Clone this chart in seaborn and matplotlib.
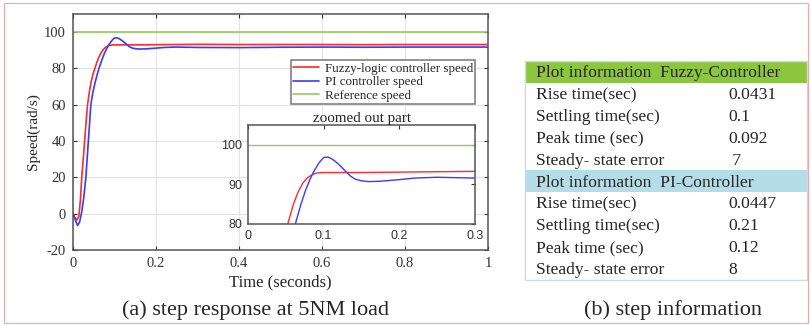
import numpy as np
import pandas as pd
import seaborn as sns
import matplotlib.pyplot as plt
from matplotlib.patches import Rectangle

# speed traces
fuzzy_t = [0, 0.004, 0.009, 0.014, 0.018, 0.021, 0.025, 0.028, 0.032, 0.035, 0.04, 0.044,
           0.049, 0.054, 0.06, 0.066, 0.072, 0.078, 0.085, 0.092, 0.1, 0.12, 0.15, 0.2,
           0.25, 0.3, 0.4, 0.5, 0.6, 0.7, 0.8, 0.9, 1.0]
fuzzy_speed = [0, -2, -3.5, -1.5, 8, 20, 31, 40, 52, 60, 68, 73,
               77.5, 81, 85, 88, 90.2, 91.6, 92.5, 92.9, 93.0, 93.0, 93.0, 93.1,
               93.2, 93.3, 93.2, 93.2, 93.2, 93.1, 93.2, 93.2, 93.2]

pi_t = [0, 0.005, 0.011, 0.016, 0.021, 0.026, 0.031, 0.034, 0.037, 0.04, 0.043, 0.048,
        0.053, 0.058, 0.064, 0.07, 0.076, 0.082, 0.088, 0.094, 0.1, 0.106, 0.112, 0.118,
        0.124, 0.13, 0.136, 0.142, 0.15, 0.16, 0.175, 0.2, 0.22, 0.25, 0.3, 0.4, 0.5,
        0.6, 0.7, 0.8, 0.9, 1.0]
pi_speed = [0, -3, -6.5, -4.5, 1, 9, 20, 30, 40, 50, 60, 67,
            72, 76.5, 81, 85, 88.5, 91.3, 93.6, 95.5, 96.8, 96.9, 96.3, 95.4,
            94.3, 93.1, 92.0, 91.3, 90.9, 90.7, 90.8, 91.2, 91.6, 91.8, 91.6, 91.5, 91.7,
            91.8, 91.7, 91.8, 91.8, 91.8]

ref_speed = 100

table_sections = ["Plot information  Fuzzy-Controller", "Plot information  PI-Controller"]
row_labels = ["Rise time(sec)", "Settling time(sec)", "Peak time (sec)", "Steady- state error"]
fuzzy_info = ["0.0431", "0.1", "0.092", " 7"]
pi_info = ["0.0447", "0.21", "0.12", "8"]

RED = "#ff2a2a"
BLUE = "#3a3aff"
GREEN = "#92cc5a"

sns.set_style("whitegrid", {"grid.color": "#e3e3e3", "axes.edgecolor": "#555555"})
plt.rcParams["font.family"] = ["Liberation Serif", "DejaVu Serif"]
plt.rcParams["axes.unicode_minus"] = False

fig = plt.figure(figsize=(8.12, 3.26), dpi=100)

# main axes
ax = fig.add_axes([0.0899, 0.233, 0.511, 0.724])
sns.lineplot(x=fuzzy_t, y=fuzzy_speed, color=RED, lw=1.2, ax=ax, sort=False, estimator=None,
             label="Fuzzy-logic controller speed")
sns.lineplot(x=pi_t, y=pi_speed, color=BLUE, lw=1.2, ax=ax, sort=False, estimator=None,
             label="PI controller speed")
ax.axhline(ref_speed, color=GREEN, lw=1.2, label="Reference speed")
ax.set_xlim(0, 1)
ax.set_ylim(-20, 110)
ax.set_xticks([0, 0.2, 0.4, 0.6, 0.8, 1.0])
ax.set_xticklabels(["0", "0.2", "0.4", "0.6", "0.8", "1"])
ax.set_yticks([-20, 0, 20, 40, 60, 80, 100])
ax.tick_params(direction="in", length=3, labelsize=10.5, colors="#333333", pad=5,
               top=True, right=True, bottom=True, left=True)
for s in ax.spines.values():
    s.set_linewidth(1.1)
ax.set_xlabel("Time (seconds)", fontsize=12, labelpad=3)
ax.set_ylabel("Speed(rad/s)", fontsize=11, labelpad=3)
leg = ax.legend(loc="upper right", bbox_to_anchor=(0.97, 0.805), fontsize=9.4,
                frameon=True, fancybox=False, handlelength=2.0, borderpad=0.2,
                labelspacing=0.1, handletextpad=0.4, borderaxespad=0)
leg.get_frame().set_edgecolor("#555555")
leg.get_frame().set_linewidth(1.1)

# inset zoom
ins = fig.add_axes([0.3054, 0.3129, 0.2796, 0.3037])
sns.lineplot(x=fuzzy_t, y=fuzzy_speed, color=RED, lw=1.0, ax=ins, sort=False, estimator=None)
sns.lineplot(x=pi_t, y=pi_speed, color=BLUE, lw=1.0, ax=ins, sort=False, estimator=None)
ins.axhline(ref_speed, color=GREEN, lw=1.0)
ins.set_xlim(0, 0.3)
ins.set_ylim(80, 105)
ins.set_xticks([0, 0.1, 0.2, 0.3])
ins.set_xticklabels(["0", "0.1", "0.2", "0.3"])
ins.set_yticks([80, 90, 100])
ins.grid(False)
ins.set_facecolor("white")
ins.tick_params(direction="in", length=3, labelsize=9, colors="#333333", pad=4,
                top=True, right=True)
for lab in ins.get_xticklabels() + ins.get_yticklabels():
    lab.set_family(["Liberation Sans", "DejaVu Sans"])
for s in ins.spines.values():
    s.set_linewidth(1.1)
ins.set_title("zoomed out part", fontsize=10.8, pad=2)

# step information table
tb = fig.add_axes([0.6466, 0.1411, 0.3473, 0.6718])
tb.set_xlim(0, 1)
tb.set_ylim(0, 10)
tb.invert_yaxis()
tb.axis("off")
header_colors = ["#8cc63f", "#b5dde8"]
row = 0
for sec, vals, hc in zip(table_sections, [fuzzy_info, pi_info], header_colors):
    tb.add_patch(Rectangle((0, row), 1, 1, facecolor=hc, edgecolor="none"))
    tb.text(0.04, row + 0.55, sec, fontsize=12.6, va="center", ha="left")
    row += 1
    for lab, v in zip(row_labels, vals):
        tb.text(0.04, row + 0.55, lab, fontsize=12.6, va="center", ha="left")
        tb.text(0.72, row + 0.55, v, fontsize=12.6, va="center", ha="left")
        row += 1
tb.add_patch(Rectangle((0, 0), 1, 10, facecolor="none", edgecolor="#cfdbe3", lw=1.0,
                       clip_on=False))

# captions
fig.text(0.315, 0.048, "(a) step response at 5NM load", fontsize=16, ha="center", va="center")
fig.text(0.829, 0.048, "(b) step information", fontsize=16, ha="center", va="center")

# thin outer border
fig.add_artist(Rectangle((0.005, 0.008), 0.99, 0.982, transform=fig.transFigure,
                         facecolor="none", edgecolor="#f2a5a5", lw=0.8))

fig.savefig("out.png", dpi=100)
